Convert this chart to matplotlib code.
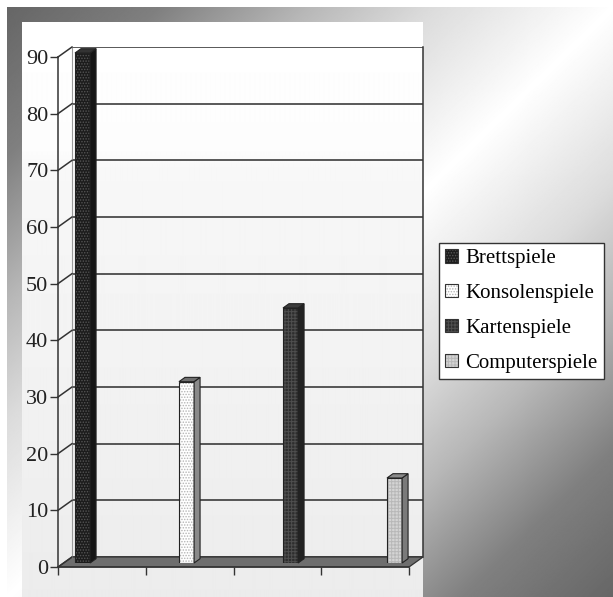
import numpy as np
import matplotlib.pyplot as plt
from matplotlib.patches import Polygon, Rectangle
from matplotlib.lines import Line2D
from matplotlib.transforms import IdentityTransform

games = ["Brettspiele", "Konsolenspiele", "Kartenspiele", "Computerspiele"]
values = [90, 32, 45, 15]
y_ticks = list(range(0, 100, 10))

face_colors = ["#1c1c1c", "#ffffff", "#2e2e2e", "#d4d4d4"]
hatch_colors = ["#555555", "#b4b4b4", "#4e4e4e", "#b8b8b8"]
hatches = ["......", "......", "+++++", "+++++"]
side_colors = ["#151515", "#8a8a8a", "#222222", "#7a7a7a"]
top_colors = ["#333333", "#6e6e6e", "#3c3c3c", "#8a8a8a"]

plt.rcParams['font.family'] = ['Liberation Serif', 'DejaVu Serif']
plt.rcParams['hatch.linewidth'] = 0.7

W, H = 613, 597
fig = plt.figure(figsize=(W / 100, H / 100), dpi=100)

# outer diagonal gradient and the light chart panel
bg = fig.add_axes([0, 0, 1, 1])
yy, xx = np.mgrid[0:H, 0:W]
t = np.abs(xx / W + yy / H - 1)
outer = np.interp(t, [0, 0.3, 0.5, 0.75, 1], [1.0, 0.86, 0.72, 0.5, 0.4])
bg.imshow(outer, cmap='gray', vmin=0, vmax=1, extent=(7, W, H, 7),
          aspect='auto', interpolation='bilinear')
rows = np.arange(22, H, dtype=float)
panel = np.interp(rows, [22, 150, 170, H], [1.0, 0.99, 0.97, 0.925])[:, None] * np.ones((1, 10))
bg.imshow(panel, cmap='gray', vmin=0, vmax=1, extent=(22, 423, H, 22),
          aspect='auto', interpolation='bilinear')
bg.set_xlim(0, W)
bg.set_ylim(H, 0)
bg.axis('off')


def rect(dx, dy):
    left, right, top, bottom = 72 + dx, 423 + dx, 47 + dy, 557 + dy
    return [left / W, 1 - bottom / H, (right - left) / W, (bottom - top) / H]


xl = (-0.182, 3.193)
x = np.arange(len(values))
bw = 0.145

ax_back = fig.add_axes(rect(0, 0))
ax = fig.add_axes(rect(-8.4, 6))
ax_front = fig.add_axes(rect(-14, 10))
for a in (ax_back, ax, ax_front):
    a.set_xlim(*xl)
    a.set_ylim(0, 90)
    a.patch.set_visible(False)
    for s in a.spines.values():
        s.set_visible(False)

# back wall with gridlines
ax_back.set_yticks(y_ticks)
ax_back.set_xticks([])
ax_back.grid(axis='y', color='#2b2b2b', lw=1.1)
ax_back.tick_params(length=0, labelleft=False)
ax_back.spines['right'].set_visible(True)
ax_back.spines['right'].set_color('#333333')
ax_back.spines['right'].set_linewidth(1.1)
ax_back.spines['left'].set_visible(True)
ax_back.spines['left'].set_color('#9a9a9a')
ax_back.spines['left'].set_linewidth(0.8)

# floor
fl = ax_front.transData.transform([(xl[0], 0), (xl[1], 0)])
bl = ax_back.transData.transform([(xl[0], 0), (xl[1], 0)])
floor = Polygon([fl[0], fl[1], bl[1], bl[0]], closed=True, facecolor='#6e6e6e',
                edgecolor='#333333', lw=0.9, transform=IdentityTransform(), clip_on=False)
ax_back.add_patch(floor)

# bars: front faces, sides and caps
ax.set_xticks([])
ax.set_yticks([])
ax.bar(x, values, width=bw, color=face_colors, edgecolor=hatch_colors, hatch=hatches, lw=0)
ax.bar(x, values, width=bw, fill=False, edgecolor='#222222', lw=0.8)
depth = np.array([6.0, 4.3])
for i, v in enumerate(values):
    p0, p1, q = ax.transData.transform([(x[i] + bw / 2, 0), (x[i] + bw / 2, v), (x[i] - bw / 2, v)])
    side = Polygon([p0, p1, p1 + depth, p0 + depth], closed=True, facecolor=side_colors[i],
                   edgecolor='#222222', lw=0.8, transform=IdentityTransform(), clip_on=False)
    cap = Polygon([q, p1, p1 + depth, q + depth], closed=True, facecolor=top_colors[i],
                  edgecolor='#222222', lw=0.8, transform=IdentityTransform(), clip_on=False)
    ax.add_patch(side)
    ax.add_patch(cap)

# front axes: value axis, category axis and the side-wall connectors
for name in ('left', 'bottom'):
    ax_front.spines[name].set_visible(True)
    ax_front.spines[name].set_color('#333333')
    ax_front.spines[name].set_linewidth(1.1)
ax_front.set_yticks(y_ticks)
ax_front.set_xticks(np.linspace(xl[0], xl[1], 5))
ax_front.set_xticklabels([])
ax_front.tick_params(axis='both', direction='out', length=6, width=1.0, color='#333333')
ax_front.tick_params(axis='y', labelsize=16, pad=1, labelcolor='#222222')
for v in y_ticks:
    a, b = ax_front.transData.transform((xl[0], v)), ax_back.transData.transform((xl[0], v))
    ax_front.add_line(Line2D([a[0], b[0]], [a[1], b[1]], color='#333333', lw=1.1,
                             transform=IdentityTransform(), clip_on=False))

# legend
handles = [(Rectangle((0, 0), 1, 1, facecolor=face_colors[i], edgecolor=hatch_colors[i],
                      hatch=hatches[i], lw=0),
            Rectangle((0, 0), 1, 1, fill=False, edgecolor='#333333', lw=0.8))
           for i in range(len(games))]
leg = fig.legend(handles, games, loc='upper left', bbox_to_anchor=(439 / W, 1 - 243 / H),
                 fontsize=15, handlelength=0.6, handleheight=0.6, handletextpad=0.35,
                 labelspacing=0.76, borderpad=0.3, borderaxespad=0, fancybox=False,
                 framealpha=1, edgecolor='#333333')
leg.get_frame().set_linewidth(1.0)

fig.savefig('out.png', dpi=100)
